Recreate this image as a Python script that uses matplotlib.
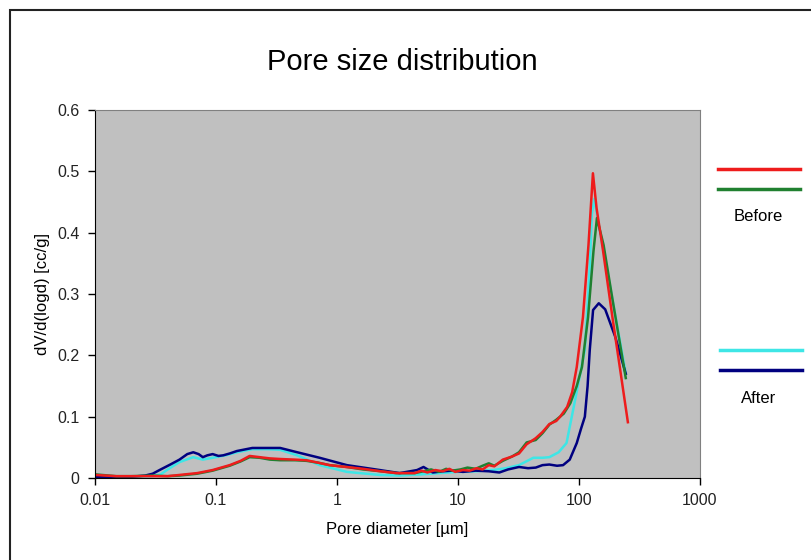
import matplotlib
matplotlib.use('Agg')
from matplotlib import pyplot as plt
from matplotlib.lines import Line2D
from matplotlib.patches import Rectangle

plt.rcParams['font.family'] = ['Liberation Sans', 'DejaVu Sans']

title = "Pore size distribution"
x_label = "Pore diameter [\u00b5m]"
y_label = "dV/d(logd) [cc/g]"
x_ticks = [0.01, 0.1, 1, 10, 100, 1000]
x_tick_labels = ["0.01", "0.1", "1", "10", "100", "1000"]
y_ticks = [0, 0.1, 0.2, 0.3, 0.4, 0.5, 0.6]
y_tick_labels = ["0", "0.1", "0.2", "0.3", "0.4", "0.5", "0.6"]

# Before (red)
red_d = [0.01, 0.015, 0.02, 0.03, 0.04, 0.05, 0.07, 0.094, 0.13, 0.16, 0.19, 0.23,
         0.28, 0.34, 0.45, 0.56, 0.7, 0.87, 1.2, 1.64, 2.3, 3.1, 4.4, 5.0, 5.6,
         6.5, 7.5, 8.5, 9.5, 11, 12.5, 14.3, 16, 18, 20, 23.5, 28, 32, 37, 44,
         50, 57, 65, 70, 80, 88, 96, 108, 120, 130.6, 140, 158, 190, 220, 254]
red_v = [0.005, 0.003, 0.003, 0.003, 0.003, 0.005, 0.008, 0.013, 0.021, 0.028, 0.036, 0.034,
         0.032, 0.031, 0.030, 0.029, 0.025, 0.021, 0.018, 0.015, 0.011, 0.008, 0.008, 0.012, 0.009,
         0.013, 0.011, 0.015, 0.010, 0.013, 0.012, 0.016, 0.014, 0.021, 0.019, 0.030, 0.035, 0.040, 0.055, 0.065,
         0.075, 0.088, 0.093, 0.100, 0.116, 0.140, 0.181, 0.262, 0.380, 0.497, 0.440, 0.372, 0.260, 0.175, 0.091]

# Before (green)
green_d = [0.01, 0.015, 0.02, 0.03, 0.04, 0.05, 0.07, 0.094, 0.13, 0.16, 0.19, 0.23,
           0.28, 0.34, 0.45, 0.56, 0.7, 0.87, 1.2, 1.64, 2.3, 3.1, 4.4, 5.2, 6.0,
           7.0, 8.0, 9.0, 10.5, 12, 14, 16, 18, 20, 23.5, 28, 32, 37, 44,
           50, 57, 65, 75, 85, 96, 106, 119, 132, 141, 160, 190, 244]
green_v = [0.006, 0.003, 0.003, 0.004, 0.003, 0.004, 0.007, 0.012, 0.020, 0.027, 0.034, 0.033,
           0.030, 0.029, 0.029, 0.028, 0.025, 0.021, 0.018, 0.014, 0.011, 0.008, 0.008, 0.011, 0.014,
           0.010, 0.015, 0.012, 0.014, 0.017, 0.015, 0.020, 0.024, 0.020, 0.028, 0.035, 0.042, 0.058, 0.062,
           0.073, 0.087, 0.095, 0.105, 0.122, 0.150, 0.181, 0.262, 0.370, 0.424, 0.380, 0.290, 0.163]

# After (cyan)
cyan_d = [0.01, 0.02, 0.03, 0.035, 0.04, 0.05, 0.065, 0.078, 0.094, 0.12, 0.149, 0.2,
          0.27, 0.34, 0.47, 0.72, 1.21, 2.26, 3.3, 5.0, 7.0, 10, 14, 19.6, 25, 32,
          42, 50, 57, 68, 79, 93, 112, 122, 128, 134, 150, 190, 244]
cyan_v = [0.002, 0.002, 0.003, 0.006, 0.014, 0.026, 0.034, 0.030, 0.033, 0.037, 0.042, 0.047,
          0.047, 0.046, 0.037, 0.021, 0.010, 0.005, 0.004, 0.006, 0.008, 0.010, 0.011, 0.013, 0.016, 0.021,
          0.033, 0.033, 0.034, 0.042, 0.057, 0.127, 0.209, 0.330, 0.430, 0.455, 0.400, 0.290, 0.170]

# After (navy)
navy_d = [0.01, 0.02, 0.026, 0.03, 0.035, 0.042, 0.05, 0.058, 0.065, 0.072, 0.078, 0.085,
          0.094, 0.105, 0.115, 0.13, 0.149, 0.2, 0.27, 0.34, 0.47, 0.72, 1.21, 2.26,
          3.3, 4.6, 5.2, 6.2, 7.5, 9, 11, 14, 18, 22, 26, 32, 38, 44, 50, 57, 66, 74,
          84, 96, 104, 112, 118, 123, 131, 146, 165, 200, 244]
navy_v = [0.002, 0.002, 0.004, 0.007, 0.014, 0.022, 0.030, 0.039, 0.042, 0.039, 0.034, 0.037,
          0.039, 0.036, 0.037, 0.040, 0.044, 0.049, 0.049, 0.049, 0.042, 0.033, 0.021, 0.013,
          0.008, 0.013, 0.018, 0.009, 0.011, 0.012, 0.010, 0.012, 0.011, 0.009, 0.014, 0.018, 0.016, 0.017, 0.021, 0.022, 0.020, 0.021,
          0.030, 0.057, 0.080, 0.100, 0.150, 0.209, 0.274, 0.285, 0.275, 0.230, 0.170]

series = [
    (cyan_d, cyan_v, '#3ee6e6'),
    (navy_d, navy_v, '#000080'),
    (green_d, green_v, '#208030'),
    (red_d, red_v, '#ee1c1c'),
]

fig = plt.figure(figsize=(8.11, 5.60), dpi=100, facecolor='white')
ax = fig.add_axes([0.117, 0.1464, 0.746, 0.657])
ax.set_facecolor('#c0c0c0')

for d, v, c in series:
    ax.plot(d, v, color=c, linewidth=1.8, solid_joinstyle='round')

ax.set_xscale('log')
ax.set_xlim(0.01, 1000)
ax.set_ylim(0, 0.6)
ax.set_xticks(x_ticks)
ax.set_xticklabels(x_tick_labels)
ax.minorticks_off()
ax.set_yticks(y_ticks)
ax.set_yticklabels(y_tick_labels)
ax.tick_params(axis='both', direction='out', length=5, width=1, labelsize=11.5,
               labelcolor='#222222', color='black', pad=6)

ax.spines['top'].set_color('#808080')
ax.spines['right'].set_color('#808080')
ax.spines['left'].set_color('black')
ax.spines['bottom'].set_color('black')

ax.set_xlabel(x_label, fontsize=12, labelpad=10)
ax.set_ylabel(y_label, fontsize=12, labelpad=5)
fig.text(0.496, 0.889, title, fontsize=21, ha='center', va='center')

# legend, Excel style: two line samples above each group label
handles = [Line2D([], [], color='#ee1c1c', linewidth=2.5),
           Line2D([], [], color='#208030', linewidth=2.5)]
fig.legend(handles=handles, labels=['', ''], loc='upper left', fontsize=12,
           bbox_to_anchor=(0.877, 0.722), frameon=False, handlelength=4.9,
           handletextpad=0, borderaxespad=0, labelspacing=0.3)
fig.text(0.935, 0.614, "Before", fontsize=12, ha='center', va='center')
handles2 = [Line2D([], [], color='#3ee6e6', linewidth=2.5),
            Line2D([], [], color='#000080', linewidth=2.5)]
fig.legend(handles=handles2, labels=['', ''], loc='upper left', fontsize=12,
           bbox_to_anchor=(0.880, 0.398), frameon=False, handlelength=4.9,
           handletextpad=0, borderaxespad=0, labelspacing=0.3)
fig.text(0.935, 0.288, "After", fontsize=12, ha='center', va='center')

fig.patches.append(Rectangle((0.012, -0.02), 1.1, 1.002, transform=fig.transFigure,
                             fill=False, edgecolor='#222222', linewidth=1.5))

fig.savefig('out.png', dpi=100, facecolor='white')
